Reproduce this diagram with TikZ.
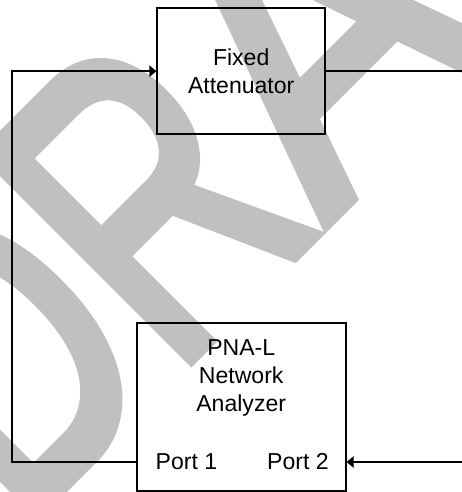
\documentclass[tikz,border=0pt]{standalone}
\usepackage{graphicx}
\usepackage{fontspec}
\setmainfont{Liberation Sans}
\newfontfamily\draftfont[FakeBold=3]{Liberation Sans}
\usetikzlibrary{arrows.meta,positioning}
\definecolor{wmgray}{RGB}{192,192,192}

\begin{document}
\begin{tikzpicture}[font=\fontsize{16.4}{20}\selectfont,
    block/.style={draw, line width=1.4pt, align=center},
    wire/.style={line width=1.4pt},
    tip/.style={-{Triangle[length=5pt,width=8pt]}}]
        \useasboundingbox (0,0) rectangle (11.55,12.3);
        % watermark
        \node[wmgray, rotate=45, xscale=0.71, anchor=base, inner sep=0pt,
          font=\draftfont\fontsize{300}{300}\selectfont] (draft) at (9.76,8.31) {DR\scalebox{1.25}[1]{A}FT};
        % blocks
        \node[block, minimum width=4.19cm, minimum height=3.15cm] (att) at (6.03,10.52) {Fixed\\Attenuator};
        \node[block, minimum width=5.22cm, minimum height=4.2cm] (pna) at (6.03,2.12) {};
        \node[align=center, inner sep=0pt, below=0.42cm of pna.north] (title) {PNA-L\\Network\\Analyzer};
        \node (port1) at (4.66,0.75) {Port 1};
        \node (port2) at (7.45,0.75) {Port 2};
        % loop
        \coordinate (edgeL) at (0.31,0);
        \coordinate (edgeR) at (11.6,0);
        \draw[wire, tip] (pna.west |- port1) -- (edgeL |- port1) |- (att.west);
        \draw[wire] (att.east) -- (edgeR |- att.east);
        \draw[wire, tip] (edgeR |- port2) -- (pna.east |- port2);
      \end{tikzpicture}
\end{document}
